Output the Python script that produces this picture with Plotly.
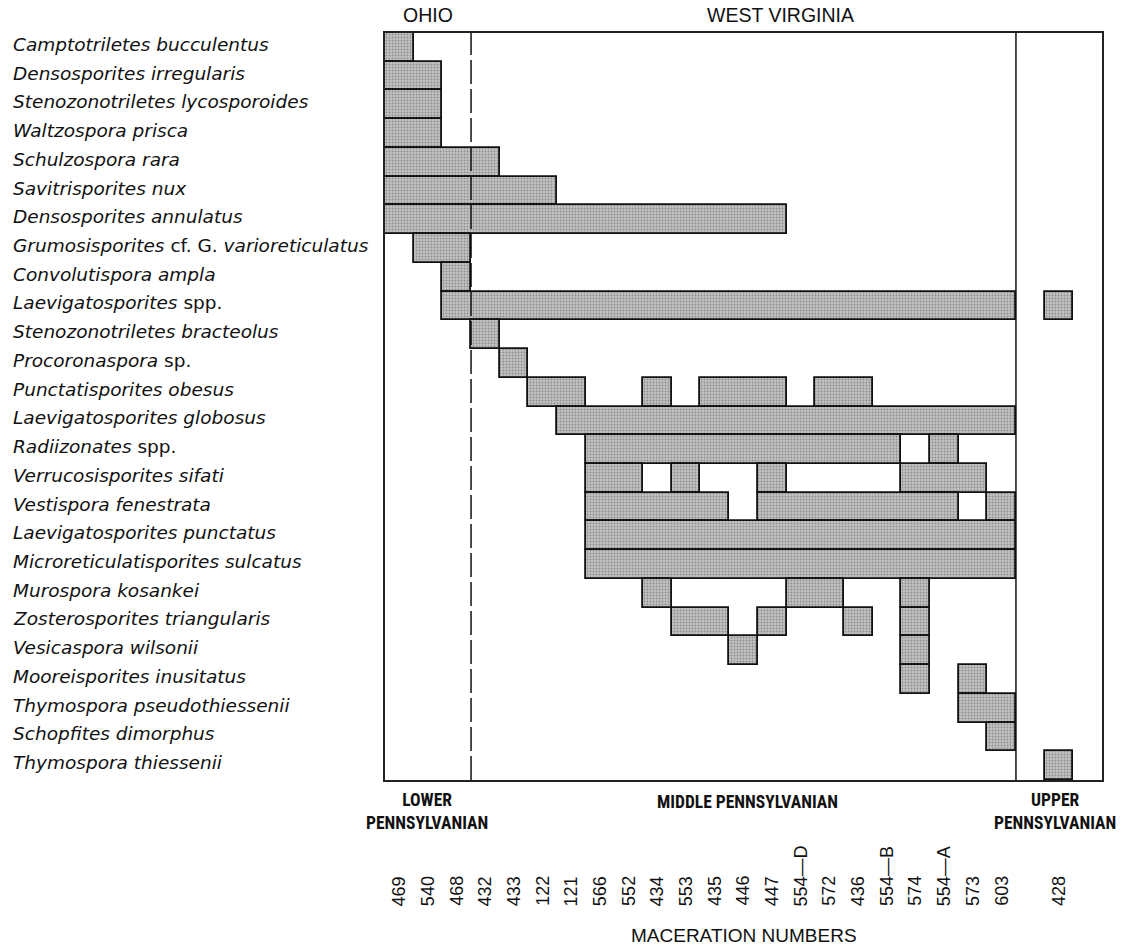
import plotly.graph_objects as go

# ---------------- data ----------------
maceration = ["469", "540", "468", "432", "433", "122", "121", "566", "552", "434",
              "553", "435", "446", "447", "554—D", "572", "436", "554—B", "574",
              "554—A", "573", "603", "428"]
stage = ["LOWER"] * 3 + ["MIDDLE"] * 19 + ["UPPER"]

species = [
    "<i>Camptotriletes bucculentus</i>",
    "<i>Densosporites irregularis</i>",
    "<i>Stenozonotriletes lycosporoides</i>",
    "<i>Waltzospora prisca</i>",
    "<i>Schulzospora rara</i>",
    "<i>Savitrisporites nux</i>",
    "<i>Densosporites annulatus</i>",
    "<i>Grumosisporites</i> cf. G. <i>varioreticulatus</i>",
    "<i>Convolutispora ampla</i>",
    "<i>Laevigatosporites</i> spp.",
    "<i>Stenozonotriletes bracteolus</i>",
    "<i>Procoronaspora</i> sp.",
    "<i>Punctatisporites obesus</i>",
    "<i>Laevigatosporites globosus</i>",
    "<i>Radiizonates</i> spp.",
    "<i>Verrucosisporites sifati</i>",
    "<i>Vestispora fenestrata</i>",
    "<i>Laevigatosporites punctatus</i>",
    "<i>Microreticulatisporites sulcatus</i>",
    "<i>Murospora kosankei</i>",
    "<i>Zosterosporites triangularis</i>",
    "<i>Vesicaspora wilsonii</i>",
    "<i>Mooreisporites inusitatus</i>",
    "<i>Thymospora pseudothiessenii</i>",
    "<i>Schopfites dimorphus</i>",
    "<i>Thymospora thiessenii</i>",
]

occurrence = [
    ["469"],
    ["469", "540"],
    ["469", "540"],
    ["469", "540"],
    ["469", "540", "468", "432"],
    ["469", "540", "468", "432", "433", "122"],
    ["469", "540", "468", "432", "433", "122", "121", "566", "552", "434", "553", "435", "446", "447"],
    ["540", "468"],
    ["468"],
    ["468", "432", "433", "122", "121", "566", "552", "434", "553", "435", "446", "447",
     "554—D", "572", "436", "554—B", "574", "554—A", "573", "603", "428"],
    ["432"],
    ["433"],
    ["122", "121", "434", "435", "446", "447", "572", "436"],
    ["121", "566", "552", "434", "553", "435", "446", "447", "554—D", "572", "436",
     "554—B", "574", "554—A", "573", "603"],
    ["566", "552", "434", "553", "435", "446", "447", "554—D", "572", "436", "554—B", "554—A"],
    ["566", "552", "553", "447", "574", "554—A", "573"],
    ["566", "552", "434", "553", "435", "447", "554—D", "572", "436", "554—B", "574", "554—A", "603"],
    ["566", "552", "434", "553", "435", "446", "447", "554—D", "572", "436", "554—B",
     "574", "554—A", "573", "603"],
    ["566", "552", "434", "553", "435", "446", "447", "554—D", "572", "436", "554—B",
     "574", "554—A", "573", "603"],
    ["434", "554—D", "572", "574"],
    ["553", "435", "447", "436", "574"],
    ["446", "574"],
    ["574", "573"],
    ["573", "603"],
    ["603"],
    ["428"],
]

# ---------------- layout of columns (one empty slot each side of Upper) ----------------
slot = {}
for i, (m, s) in enumerate(zip(maceration, stage)):
    slot[m] = i + (1 if s == "UPPER" else 0)
n_slots = len(maceration) + 2
lower_end = stage.index("MIDDLE")
middle_end = stage.index("UPPER")

FILL_BG = "#c2c2c2"
FILL_FG = "#555555"

fig = go.Figure()
for r, occ in enumerate(occurrence):
    s = sorted(slot[m] for m in occ)
    runs = []
    start = prev = s[0]
    for v in s[1:]:
        if v == prev + 1:
            prev = v
        else:
            runs.append((start, prev))
            start = prev = v
    runs.append((start, prev))
    fig.add_trace(go.Bar(
        orientation="h",
        y=[r] * len(runs),
        base=[a for a, b in runs],
        x=[b - a + 1 for a, b in runs],
        width=[1] * len(runs),
        marker=dict(color=FILL_BG,
                    line=dict(color="#111111", width=1.8),
                    pattern=dict(shape=".", bgcolor=FILL_BG, fgcolor=FILL_FG,
                                 size=3, solidity=0.3)),
        hoverinfo="skip",
        showlegend=False,
    ))

annotations = []
# species labels
for r, name in enumerate(species):
    annotations.append(dict(text=name, xref="paper", x=-0.5216, xanchor="left",
                            yref="y", y=r, yanchor="middle", yshift=3, showarrow=False,
                            font=dict(family="DejaVu Sans", size=18.5, color="#111")))
# maceration numbers (rotated, bottom aligned)
for m in maceration:
    annotations.append(dict(text=m, xref="x", x=slot[m] + 0.5, xanchor="center",
                            yref="paper", y=-0.1715, yanchor="bottom", textangle=-90,
                            showarrow=False,
                            font=dict(family="Liberation Sans, Arial", size=18, color="#111")))
annotations.append(dict(text="MACERATION NUMBERS", xref="x", x=12.52, yref="paper", y=-0.2085,
                        xanchor="center", yanchor="middle", showarrow=False,
                        font=dict(family="Liberation Sans, Arial", size=19, color="#111")))
# state labels
top_font = dict(family="Liberation Sans, Arial", size=19.5, color="#111")
annotations.append(dict(text="OHIO", xref="x", x=lower_end / 2, yref="paper", y=1.0245,
                        xanchor="center", yanchor="middle", showarrow=False, font=top_font))
annotations.append(dict(text="WEST VIRGINIA", xref="x", x=13.8, yref="paper", y=1.0245,
                        xanchor="center", yanchor="middle", showarrow=False, font=top_font))
# stage labels
narrow = dict(family="Liberation Sans Narrow, Arial Narrow, Roboto Condensed, sans-serif",
              size=17.5, color="#111")
annotations.append(dict(text="<b>LOWER<br>PENNSYLVANIAN</b>", xref="x", x=1.46, yref="paper",
                        y=-0.0425, xanchor="center", yanchor="middle", showarrow=False, font=narrow))
annotations.append(dict(text="<b>MIDDLE PENNSYLVANIAN</b>", xref="x", x=12.64, yref="paper",
                        y=-0.0295, xanchor="center", yanchor="middle", showarrow=False, font=narrow))
annotations.append(dict(text="<b>UPPER<br>PENNSYLVANIAN</b>", xref="x", x=23.36, yref="paper",
                        y=-0.0425, xanchor="center", yanchor="middle", showarrow=False, font=narrow))

shapes = [
    dict(type="line", xref="x", yref="paper", x0=lower_end, x1=lower_end, y0=0, y1=1,
         line=dict(color="#111", width=1.5, dash="24px,5px")),
    dict(type="line", xref="x", yref="paper", x0=middle_end, x1=middle_end, y0=0, y1=1,
         line=dict(color="#111", width=1.5)),
]

axis_common = dict(showgrid=False, zeroline=False, showticklabels=False, ticks="",
                   showline=True, mirror=True, linecolor="#222", linewidth=1.5, fixedrange=True)
fig.update_layout(
    width=1124, height=949, autosize=False,
    margin=dict(l=385, r=22, t=33, b=169, pad=0),
    plot_bgcolor="white", paper_bgcolor="white",
    barmode="overlay", bargap=0, showlegend=False,
    xaxis=dict(range=[0, n_slots], **axis_common),
    yaxis=dict(range=[len(species) - 0.5, -0.5], **axis_common),
    annotations=annotations, shapes=shapes,
)

# remove the browser's default 8px body margin so the figure sits at the page origin
fig.write_html("out.html", config={"displayModeBar": False},
               post_script="document.body.style.margin='0';")
